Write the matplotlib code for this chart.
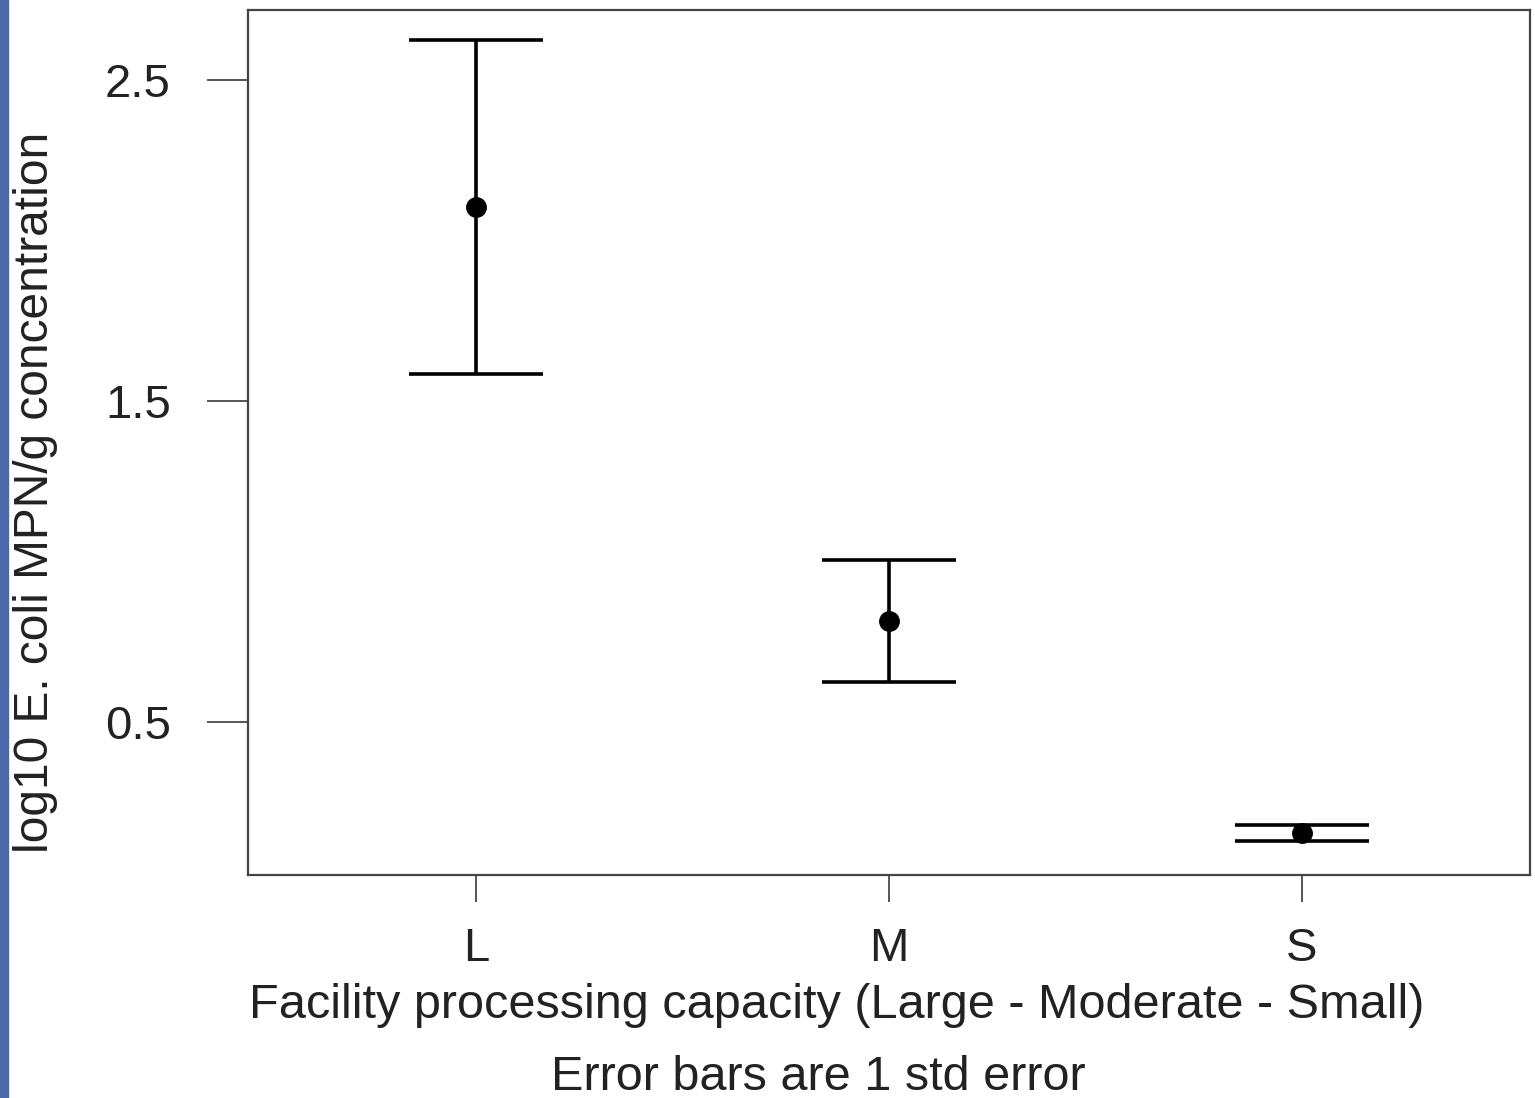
import matplotlib
matplotlib.use("Agg")
import matplotlib.pyplot as plt
from matplotlib.patches import Rectangle

plt.rcParams["font.family"] = ["Liberation Sans", "DejaVu Sans"]

# data
groups = ["L", "M", "S"]
means = [2.104, 0.815, 0.154]
std_err = [0.52, 0.19, 0.025]
y_ticks = [0.5, 1.5, 2.5]

fig = plt.figure(figsize=(15.35, 10.98), dpi=100)
ax = fig.add_axes([248 / 1535, 1 - 875 / 1098, 1282 / 1535, 865 / 1098])

x = list(range(1, len(groups) + 1))
ax.errorbar(x, means, yerr=std_err, fmt="o", color="black", ms=14,
            elinewidth=2.6, capsize=48, capthick=2.6)

ax.set_xlim(0.448, 3.552)
ax.set_ylim(0.023, 2.718)
ax.set_xticks(x)
ax.set_xticklabels(groups)
ax.set_yticks(y_ticks)
ax.set_yticklabels([str(v) for v in y_ticks])

for s in ax.spines.values():
    s.set_color("#444444")
    s.set_linewidth(1.6)
ax.tick_params(axis="y", length=29.5, width=1.4, color="#555555", pad=26,
               labelsize=34, labelcolor="#222222")
ax.tick_params(axis="x", length=19.5, width=1.4, color="#555555", pad=18,
               labelsize=34, labelcolor="#222222")

fig.text(36 / 1535, 1 - 492 / 1098, "log10 E. coli MPN/g concentration",
         rotation=90, ha="center", va="center", fontsize=34.5, color="#222222")
fig.text(837 / 1535, 1 - 1005 / 1098,
         "Facility processing capacity (Large - Moderate - Small)",
         ha="center", va="center", fontsize=35, color="#222222")
fig.text(818 / 1535, 1 - 1078 / 1098, "Error bars are 1 std error",
         ha="center", va="center", fontsize=35, color="#222222")

# blue strip at the left edge of the screenshot
fig.patches.append(Rectangle((0, 0), 8 / 1535, 1, transform=fig.transFigure,
                             color="#4a6aa8", zorder=0))

fig.savefig("out.png", dpi=100)
